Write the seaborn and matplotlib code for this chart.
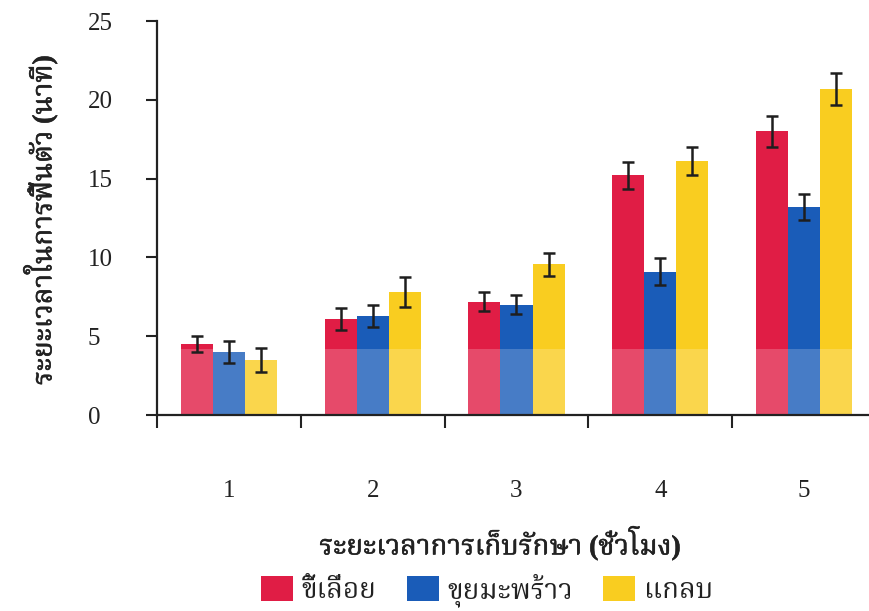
import numpy as np
import pandas as pd
import matplotlib
matplotlib.use("Agg")
import matplotlib.pyplot as plt
import matplotlib.patheffects as pe
import seaborn as sns
from matplotlib import font_manager
from matplotlib.ft2font import FT2Font
from matplotlib.ticker import FixedLocator

# Storage time (hours) on the x axis
hours = ["1", "2", "3", "4", "5"]
# Packing materials
materials = ["ขี้เลื่อย", "ขุยมะพร้าว", "แกลบ"]
# Mean recovery time (minutes) per material
sawdust = [4.5, 6.1, 7.2, 15.2, 18.0]
coir = [4.0, 6.3, 7.0, 9.1, 13.2]
husk = [3.5, 7.8, 9.55, 16.1, 20.7]
# Error bar half-widths
sawdust_err = [0.5, 0.7, 0.6, 0.85, 1.0]
coir_err = [0.7, 0.7, 0.6, 0.85, 0.85]
husk_err = [0.75, 0.95, 0.75, 0.9, 1.0]
y_ticks = [0, 5, 10, 15, 20, 25]

x_title = "ระยะเวลาการเก็บรักษา (ชั่วโมง)"
y_title = "ระยะเวลาในการฟื้นตัว (นาที)"

colors = ["#e01d45", "#1a5cb8", "#f9cd20"]
ink = "#222222"


def thai_family():
    prefer = ["Noto Serif Thai", "Noto Sans Thai Looped", "Sarabun", "TH Sarabun New",
              "Loma", "Norasi", "Kinnari", "Garuda", "Noto Sans Thai", "Tlwg Typo"]
    found = {}
    for f in font_manager.fontManager.ttflist:
        try:
            cmap = FT2Font(f.fname).get_charmap()
        except Exception:
            continue
        if 0x0E23 in cmap and 0x0E40 in cmap:
            found.setdefault(f.name, f.fname)
    for p in prefer:
        if p in found:
            return p
    return next(iter(found), "DejaVu Sans")


sns.set_theme(style="white")
thai = thai_family()
# Latin glyphs from Liberation Serif, Thai glyphs fall through to the Thai face
plt.rcParams["font.family"] = ["Liberation Serif", thai, "DejaVu Sans"]

df = pd.DataFrame({
    "hour": np.tile(hours, 3),
    "material": np.repeat(materials, len(hours)),
    "value": sawdust + coir + husk,
    "err": sawdust_err + coir_err + husk_err,
})

fig = plt.figure(figsize=(8.7, 6.11), dpi=100)
ax = fig.add_axes([157 / 870, 1 - 415 / 611, 1 - 157 / 870, (415 - 21) / 611])

sns.barplot(data=df, x="hour", y="value", hue="material", order=hours,
            hue_order=materials, palette=colors, width=0.67, errorbar=None,
            saturation=1, linewidth=0, ax=ax, legend=True)

# Error bars centred on each drawn bar
for cont, mat in zip(ax.containers, materials):
    sub = df[df["material"] == mat].set_index("hour").loc[hours]
    xs = [p.get_x() + p.get_width() / 2 for p in cont.patches]
    hs = [p.get_height() for p in cont.patches]
    ax.errorbar(xs, hs, yerr=sub["err"].values, fmt="none", ecolor="#1e1e1e",
                elinewidth=1.8, capsize=4.5, capthick=1.8, zorder=6)

# Pale wash across the lower strip of the plot
ax.axhspan(0, 4.2, color="white", alpha=0.2, zorder=3, lw=0)

ax.set_xlim(-0.5, (870 - 228) / 144)
ax.set_ylim(0, 25)
ax.set_yticks(y_ticks)
ax.set_yticklabels([str(v) for v in y_ticks], fontsize=18, color=ink, ha="left")
ax.tick_params(axis="y", direction="out", length=8, width=1.5, color=ink,
               pad=42, left=True)

ax.set_xticks(range(len(hours)))
ax.set_xticklabels(hours, fontsize=18, color=ink)
ax.tick_params(axis="x", which="major", length=0, pad=47)
ax.xaxis.set_minor_locator(FixedLocator(np.arange(-0.5, len(hours), 1.0)))
ax.tick_params(axis="x", which="minor", direction="out", length=9, width=1.5,
               color=ink, bottom=True)

for side in ["top", "right"]:
    ax.spines[side].set_visible(False)
for side in ["left", "bottom"]:
    ax.spines[side].set_color(ink)
    ax.spines[side].set_linewidth(1.6)
    ax.spines[side].set_zorder(7)

ax.set_xlabel("")
ax.set_ylabel("")
heavy = [pe.withStroke(linewidth=0.4, foreground=ink)]
fig.text(40 / 870, 1 - 220 / 611, y_title, rotation=90, ha="center", va="center",
         fontsize=20, fontweight="bold", color=ink, path_effects=heavy)
fig.text(500 / 870, 1 - 543 / 611, x_title, ha="center", va="center",
         fontsize=20, fontweight="bold", color=ink, path_effects=heavy)

handles, labels = ax.get_legend_handles_labels()
ax.get_legend().remove()
fig.legend(handles, labels, loc="center", bbox_to_anchor=(487 / 870, 1 - 590 / 611),
           ncol=3, frameon=False, fontsize=20, handlelength=1.15, handleheight=1.0,
           columnspacing=1.1, handletextpad=0.3, labelcolor=ink)

fig.savefig("out.png", dpi=100)
